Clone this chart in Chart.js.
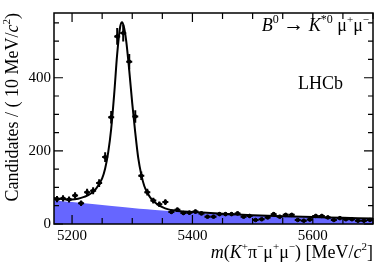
<!DOCTYPE html>
<html>
<head>
<meta charset="utf-8">
<script src="https://cdn.jsdelivr.net/npm/chart.js@4.4.1/dist/chart.umd.min.js"></script>
<style>
  html, body { margin: 0; padding: 0; background: #fff; }
  canvas { display: block; }
</style>
</head>
<body>
<canvas id="c" width="392" height="267"></canvas>
<script>
// data points: bin centres (10 MeV bins) and candidate counts
const binCentres = [5175, 5185, 5195, 5205, 5215, 5225, 5235, 5245, 5255, 5265,
  5275, 5285, 5295, 5305, 5315, 5325, 5335, 5345, 5355, 5365,
  5375, 5385, 5395, 5405, 5415, 5425, 5435, 5445, 5455, 5465,
  5475, 5485, 5495, 5505, 5515, 5525, 5535, 5545, 5555, 5565,
  5575, 5585, 5595, 5605, 5615, 5625, 5635, 5645, 5655, 5665,
  5675, 5685, 5695];
const counts = [68, 70, 67, 78, 57, 87, 91, 112, 183, 292,
  513, 522, 444, 294, 132, 87, 64, 54, 60, 33,
  39, 30, 31, 34, 29, 20, 20, 27, 27, 27,
  29, 20, 22, 11, 13, 18, 27, 20, 25, 25,
  11, 9, 12, 22, 22, 18, 11, 16, 13, 13,
  9, 9, 11];

// total fit curve
const fitMass = [5170, 5180, 5190, 5200, 5210, 5220, 5230, 5240, 5250, 5255,
  5260, 5265, 5270, 5275, 5280, 5283, 5286, 5290, 5295, 5300,
  5305, 5310, 5315, 5320, 5325, 5330, 5340, 5350, 5360, 5370,
  5380, 5400, 5450, 5500, 5550, 5600, 5650, 5700];
const fitVal = [71, 69, 67, 67, 69, 74, 82, 97, 125, 152,
  195, 260, 355, 465, 540, 552, 540, 500, 420, 330,
  250, 180, 135, 104, 86, 72, 56, 46, 40, 37,
  35, 33, 28, 24, 21, 19, 17, 15];

// background component (blue area)
const bgMass = [5170, 5200, 5250, 5300, 5350, 5400, 5450, 5500, 5550, 5600, 5650, 5700];
const bgVal = [65, 60, 52, 44, 37, 31, 27, 23, 20, 18, 16, 14];

// axis ticks
const xMajor = [5200, 5400, 5600];
const yMajor = [0, 200, 400];

const serif = '"Liberation Serif", "DejaVu Serif", serif';

function drawRich(ctx, segs, x, y, align) {
  // segs: [text, size, italic, dy]
  let w = 0;
  segs.forEach(s => {
    ctx.font = (s[2] ? 'italic ' : '') + s[1] + 'px ' + serif;
    w += ctx.measureText(s[0]).width;
  });
  let cx = align === 'right' ? x - w : (align === 'center' ? x - w / 2 : x);
  segs.forEach(s => {
    ctx.font = (s[2] ? 'italic ' : '') + s[1] + 'px ' + serif;
    ctx.fillText(s[0], cx, y + (s[3] || 0));
    cx += ctx.measureText(s[0]).width;
  });
}

const decorPlugin = {
  id: 'decor',
  afterDatasetsDraw(chart) {
    const ctx = chart.ctx;
    const xs = chart.scales.x, ys = chart.scales.y;

    // error bars
    ctx.save();
    ctx.strokeStyle = '#000';
    ctx.lineWidth = 2;
    binCentres.forEach((m, i) => {
      const n = counts[i];
      const err = Math.sqrt(n);
      const px = xs.getPixelForValue(m);
      const py = ys.getPixelForValue(n);
      ctx.beginPath();
      ctx.moveTo(xs.getPixelForValue(m - 5), py);
      ctx.lineTo(xs.getPixelForValue(m + 5), py);
      ctx.moveTo(px, ys.getPixelForValue(Math.max(0, n - err)));
      ctx.lineTo(px, ys.getPixelForValue(n + err));
      ctx.stroke();
    });
    ctx.restore();
  },
  afterDraw(chart) {
    const ctx = chart.ctx;
    const xs = chart.scales.x, ys = chart.scales.y;
    const a = chart.chartArea;
    ctx.save();
    ctx.strokeStyle = '#000';
    ctx.fillStyle = '#000';
    ctx.lineWidth = 1.5;
    ctx.strokeRect(a.left, a.top, a.right - a.left, a.bottom - a.top);

    // ticks, pointing inwards on all four sides
    ctx.lineWidth = 1.2;
    ctx.beginPath();
    for (let v = 5200; v <= 5700; v += 50) {
      const px = xs.getPixelForValue(v);
      const len = xMajor.includes(v) ? 9 : 6;
      ctx.moveTo(px, a.bottom); ctx.lineTo(px, a.bottom - len);
      ctx.moveTo(px, a.top); ctx.lineTo(px, a.top + len);
    }
    for (let v = 0; v <= 550; v += 50) {
      const py = ys.getPixelForValue(v);
      const len = yMajor.includes(v) ? 9 : 5;
      ctx.moveTo(a.left, py); ctx.lineTo(a.left + len, py);
      ctx.moveTo(a.right, py); ctx.lineTo(a.right - len, py);
    }
    ctx.stroke();

    // tick labels
    ctx.font = '15px ' + serif;
    ctx.textAlign = 'center';
    ctx.textBaseline = 'alphabetic';
    xMajor.forEach(v => ctx.fillText(String(v), xs.getPixelForValue(v), 240));
    ctx.textAlign = 'right';
    ctx.textBaseline = 'middle';
    yMajor.forEach(v => ctx.fillText(String(v), a.left - 3, ys.getPixelForValue(v)));

    // axis titles
    ctx.textAlign = 'left';
    ctx.textBaseline = 'alphabetic';
    drawRich(ctx, [
      ['m', 18, true], ['(', 18], ['K', 18, true], ['+', 11, false, -8], ['π', 18], ['−', 11, false, -8],
      ['μ', 18], ['+', 11, false, -8], ['μ', 18], ['−', 11, false, -8], [') [MeV/', 18], ['c', 18, true],
      ['2', 11, false, -8], [']', 18]
    ], a.right, 258, 'right');

    ctx.save();
    ctx.translate(18, a.top);
    ctx.rotate(-Math.PI / 2);
    drawRich(ctx, [
      ['Candidates / ( 10 MeV/', 18], ['c', 18, true], ['2', 11, false, -8], [')', 18]
    ], 0, 0, 'right');
    ctx.restore();

    // legend text
    drawRich(ctx, [
      ['B', 18, true], ['0', 12, false, -8], [' ', 18], ['\u2192', 21], [' ', 18], ['K', 18, true],
      ['*0', 12, false, -8], [' μ', 18], ['+', 11, false, -8], ['μ', 18], ['−', 11, false, -8]
    ], 369, 31, 'right');
    drawRich(ctx, [['LHCb', 18]], 343, 89, 'right');
    ctx.restore();
  }
};

function build() {
  new Chart(document.getElementById('c'), {
    type: 'line',
    data: {
      datasets: [
        {
          label: 'background',
          data: bgMass.map((m, i) => ({ x: m, y: bgVal[i] })),
          fill: 'origin',
          backgroundColor: 'rgb(102, 102, 255)',
          borderWidth: 0,
          pointRadius: 0,
          tension: 0.3,
          order: 3
        },
        {
          label: 'data',
          type: 'scatter',
          data: binCentres.map((m, i) => ({ x: m, y: counts[i] })),
          backgroundColor: '#000',
          borderColor: '#000',
          pointRadius: 1.8,
          order: 2
        },
        {
          label: 'fit',
          data: fitMass.map((m, i) => ({ x: m, y: fitVal[i] })),
          borderColor: '#000',
          borderWidth: 2,
          pointRadius: 0,
          fill: false,
          cubicInterpolationMode: 'monotone',
          order: 1
        }
      ]
    },
    options: {
      responsive: false,
      animation: false,
      devicePixelRatio: 1,
      layout: { padding: { left: 54, right: 19, top: 13, bottom: 43 } },
      scales: {
        x: { type: 'linear', min: 5170, max: 5700, display: false },
        y: { type: 'linear', min: 0, max: 577, display: false }
      },
      plugins: {
        legend: { display: false },
        tooltip: { enabled: false }
      }
    },
    plugins: [decorPlugin]
  });
}

Promise.all([
  document.fonts.load('15px "Liberation Serif"'),
  document.fonts.load('italic 15px "Liberation Serif"')
]).then(build, build);
</script>
</body>
</html>
